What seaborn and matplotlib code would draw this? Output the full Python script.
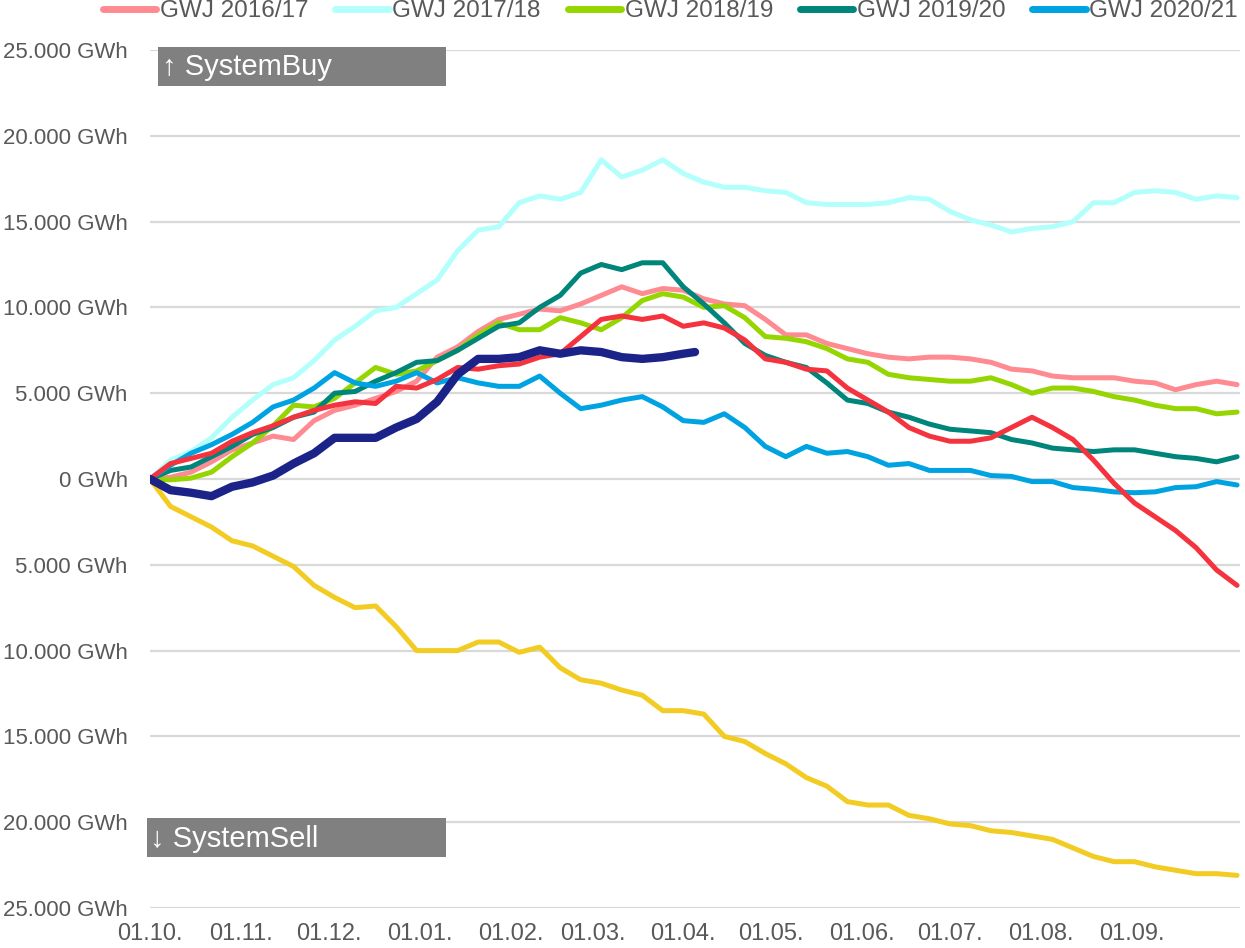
import numpy as np
import matplotlib
matplotlib.use('Agg')
import matplotlib.pyplot as plt
import seaborn as sns
from matplotlib.lines import Line2D
from matplotlib.patches import Rectangle
from matplotlib.ticker import FuncFormatter

# sampling grid: days since 01.10., one point per week
days = np.arange(0, 372, 7)
days_cur = np.append(np.arange(0, 183, 7), 186)

# cumulative balancing volume in GWh (positive = SystemBuy, negative = SystemSell)
gwj_1617 = [0, 100, 400, 1000, 1700, 2100, 2500, 2300, 3400, 4000,
            4300, 4700, 5100, 5700, 7100, 7700, 8600, 9300, 9600, 9900,
            9800, 10200, 10700, 11200, 10800, 11100, 11000, 10500, 10200, 10100,
            9300, 8400, 8400, 7900, 7600, 7300, 7100, 7000, 7100, 7100,
            7000, 6800, 6400, 6300, 6000, 5900, 5900, 5900, 5700, 5600,
            5200, 5500, 5700, 5500]
gwj_1718 = [0, 1100, 1600, 2400, 3600, 4600, 5500, 5900, 6900, 8100,
            8900, 9800, 10000, 10800, 11600, 13300, 14500, 14700, 16100, 16500,
            16300, 16700, 18600, 17600, 18000, 18600, 17800, 17300, 17000, 17000,
            16800, 16700, 16100, 16000, 16000, 16000, 16100, 16400, 16300, 15600,
            15100, 14800, 14400, 14600, 14700, 15000, 16100, 16100, 16700, 16800,
            16700, 16300, 16500, 16400]
gwj_1819 = [0, -50, 50, 400, 1300, 2100, 3100, 4300, 4200, 4700,
            5600, 6500, 6100, 6300, 6900, 7500, 8400, 9100, 8700, 8700,
            9400, 9100, 8700, 9400, 10400, 10800, 10600, 10000, 10100, 9400,
            8300, 8200, 8000, 7600, 7000, 6800, 6100, 5900, 5800, 5700,
            5700, 5900, 5500, 5000, 5300, 5300, 5100, 4800, 4600, 4300,
            4100, 4100, 3800, 3900]
gwj_1920 = [0, 500, 700, 1300, 1900, 2600, 3000, 3600, 3900, 5000,
            5100, 5700, 6200, 6800, 6900, 7500, 8200, 8900, 9100, 10000,
            10700, 12000, 12500, 12200, 12600, 12600, 11200, 10200, 9100, 7900,
            7200, 6800, 6500, 5600, 4600, 4400, 3900, 3600, 3200, 2900,
            2800, 2700, 2300, 2100, 1800, 1700, 1600, 1700, 1700, 1500,
            1300, 1200, 1000, 1300]
gwj_2021 = [0, 800, 1500, 2000, 2600, 3300, 4200, 4600, 5300, 6200,
            5600, 5400, 5700, 6200, 5600, 5900, 5600, 5400, 5400, 6000,
            5000, 4100, 4300, 4600, 4800, 4200, 3400, 3300, 3800, 3000,
            1900, 1300, 1900, 1500, 1600, 1300, 800, 900, 500, 500,
            500, 200, 150, -150, -150, -500, -600, -750, -800, -750,
            -500, -450, -150, -350]
gwj_2122 = [0, 900, 1200, 1500, 2200, 2700, 3100, 3600, 4000, 4300,
            4500, 4400, 5400, 5300, 5800, 6500, 6400, 6600, 6700, 7100,
            7300, 8300, 9300, 9500, 9300, 9500, 8900, 9100, 8800, 8100,
            7000, 6800, 6400, 6300, 5300, 4600, 3900, 3000, 2500, 2200,
            2200, 2400, 3000, 3600, 3000, 2300, 1100, -250, -1400, -2200,
            -3000, -4000, -5300, -6200]
gwj_2223 = [0, -1600, -2200, -2800, -3600, -3900, -4500, -5100, -6200, -6900,
            -7500, -7400, -8600, -10000, -10000, -10000, -9500, -9500, -10100, -9800,
            -11000, -11700, -11900, -12300, -12600, -13500, -13500, -13700, -15000, -15300,
            -16000, -16600, -17400, -17900, -18800, -19000, -19000, -19600, -19800, -20100,
            -20200, -20500, -20600, -20800, -21000, -21500, -22000, -22300, -22300, -22600,
            -22800, -23000, -23000, -23100]
gwj_2324 = [0, -650, -800, -1000, -450, -200, 200, 900, 1500, 2400,
            2400, 2400, 3000, 3500, 4500, 6100, 7000, 7000, 7100, 7500,
            7300, 7500, 7400, 7100, 7000, 7100, 7300, 7400]

labels = ['GWJ 2016/17', 'GWJ 2017/18', 'GWJ 2018/19', 'GWJ 2019/20', 'GWJ 2020/21',
          'GWJ 2021/22', 'GWJ 2022/23', 'GWJ 2023/24']
colors = ['#FF8B92', '#B3FFFC', '#95D500', '#00857A', '#00A3E2',
          '#F5333F', '#F2CC22', '#1C2388']

month_days = [0, 31, 61, 92, 123, 151, 182, 212, 243, 273, 304, 335]
month_labels = ['01.10.', '01.11.', '01.12.', '01.01.', '01.02.', '01.03.',
                '01.04.', '01.05.', '01.06.', '01.07.', '01.08.', '01.09.']

sns.set_theme(style='white')
plt.rcParams['font.family'] = ['Liberation Sans', 'DejaVu Sans']

fig = plt.figure(figsize=(12.45, 9.48), dpi=100)
ax = fig.add_axes([150 / 1245, 40 / 948, 1090 / 1245, 858 / 948])

series = [gwj_1617, gwj_1718, gwj_1819, gwj_1920, gwj_2021, gwj_2122, gwj_2223]
for vals, col, lab in zip(series, colors, labels):
    sns.lineplot(x=days, y=vals, ax=ax, color=col, linewidth=3.6, legend=False,
                 solid_capstyle='round', solid_joinstyle='round', label=lab)
sns.lineplot(x=days_cur, y=gwj_2324, ax=ax, color=colors[7], linewidth=6, legend=False,
             solid_capstyle='round', solid_joinstyle='round', label=labels[7])

ax.set_xlim(0, 372)
ax.set_ylim(-25000, 25000)
ax.set_yticks(np.arange(-25000, 25001, 5000))
ax.yaxis.set_major_formatter(FuncFormatter(
    lambda v, p: f"{abs(int(v)):,}".replace(',', '.') + ' GWh'))
ax.set_xticks(month_days)
ax.set_xticklabels(month_labels)
ax.set_xlabel('')
ax.set_ylabel('')
ax.yaxis.grid(True, color='#D9D9D9', linewidth=1.6)
ax.xaxis.grid(False)
ax.set_axisbelow(True)
for s in ax.spines.values():
    s.set_visible(False)
ax.tick_params(axis='y', length=0, pad=16, labelsize=16, labelcolor='#595959')
ax.tick_params(axis='x', length=0, pad=11, labelsize=17, labelcolor='#595959')

# SystemBuy / SystemSell tags
ax.add_patch(Rectangle((0.0073, 0.958), 0.2643, 0.0455, transform=ax.transAxes,
                       facecolor='#808080', edgecolor='none', clip_on=False, zorder=5))
ax.text(0.011, 0.980, '\u2191 SystemBuy', transform=ax.transAxes, color='white',
        fontsize=21, va='center', ha='left', zorder=6)
ax.add_patch(Rectangle((-0.0028, 0.0594), 0.2744, 0.0455, transform=ax.transAxes,
                       facecolor='#808080', edgecolor='none', clip_on=False, zorder=5))
ax.text(0.0, 0.081, '\u2193 SystemSell', transform=ax.transAxes, color='white',
        fontsize=21, va='center', ha='left', zorder=6)

handles = [Line2D([], [], color=c, linewidth=5, solid_capstyle='round') for c in colors[:5]]
leg = fig.legend(handles, labels[:5], loc='upper left', bbox_to_anchor=(103 / 1245, 1.0),
                 bbox_transform=fig.transFigure, ncol=5, frameon=False,
                 borderpad=0, borderaxespad=0, handlelength=2.2, handletextpad=0.15,
                 columnspacing=1.1, prop=dict(size=17.5))
for t in leg.get_texts():
    t.set_color('#595959')

fig.savefig('out.png', dpi=100)
